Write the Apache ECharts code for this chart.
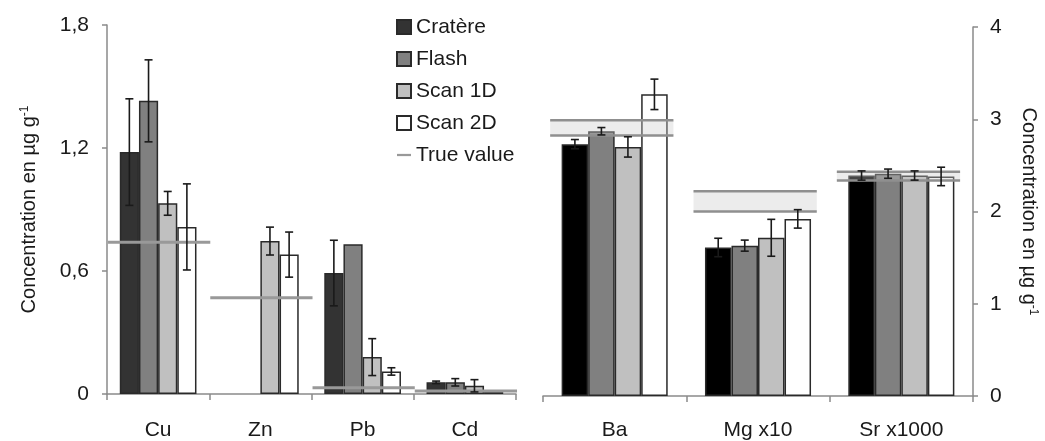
<!DOCTYPE html>
<html>
<head>
<meta charset="utf-8">
<script src="https://cdn.jsdelivr.net/npm/echarts@6/dist/echarts.min.js"></script>
<style>
html,body{margin:0;padding:0;background:#fff;}
#chart{width:1045px;height:441px;}
</style>
</head>
<body>
<div id="chart"></div>
<script>
// ---- data ----
const seriesNames = ['Cratère', 'Flash', 'Scan 1D', 'Scan 2D'];
const trueName = 'True value';

const categoriesLeft = ['Cu', 'Zn', 'Pb', 'Cd'];
const crLeft = [1.18, null, 0.59, 0.057];
const crLeftErr = [0.26, null, 0.16, 0.006];
const flLeft = [1.43, null, 0.73, 0.057];
const flLeftErr = [0.20, null, null, 0.018];
const s1Left = [0.93, 0.746, 0.18, 0.04];
const s1LeftErr = [0.058, 0.068, 0.09, 0.03];
const s2Left = [0.815, 0.68, 0.11, 0.015];
const s2LeftErr = [0.21, 0.11, 0.018, null];
const trueLeft = [0.74, 0.47, 0.03, 0.015];

const categoriesRight = ['Ba', 'Mg x10', 'Sr x1000'];
const crRight = [2.73, 1.61, 2.39];
const crRightErr = [0.05, 0.10, 0.05];
const flRight = [2.87, 1.63, 2.41];
const flRightErr = [0.04, 0.06, 0.05];
const s1Right = [2.70, 1.715, 2.39];
const s1RightErr = [0.11, 0.20, 0.05];
const s2Right = [3.27, 1.92, 2.38];
const s2RightErr = [0.165, 0.10, 0.10];
const trueRightLow = [2.825, 2.0, 2.335];
const trueRightHigh = [2.99, 2.22, 2.43];

const leftTicks = ['0', '0,6', '1,2', '1,8'];
const rightTicks = ['0', '1', '2', '3', '4'];

// ---- styles ----
const FONT = 'Liberation Sans, Arial, sans-serif';
const FS = 21;
const leftColors = ['#333333', '#808080', '#c0c0c0', '#ffffff'];
const rightColors = ['#000000', '#808080', '#c0c0c0', '#ffffff'];
const GAP_L = 0.25, GAP_R = 0.26;

function errData(vals, errs) {
  const out = [];
  vals.forEach((v, i) => {
    if (v != null && errs[i] != null) out.push([i, v - errs[i], v + errs[i]]);
  });
  return out;
}

function makeErr(slot, gap) {
  return function (params, api) {
    const cat = api.value(0);
    const lo = api.coord([cat, api.value(1)]);
    const hi = api.coord([cat, api.value(2)]);
    const band = api.size([1, 0])[0];
    const bw = band * (1 - gap) / 4;
    const x = lo[0] - 2 * bw + (slot + 0.5) * bw;
    const cap = 4;
    const st = { stroke: '#1a1a1a', lineWidth: 1.6 };
    return {
      type: 'group', children: [
        { type: 'line', shape: { x1: x, y1: lo[1], x2: x, y2: hi[1] }, style: st },
        { type: 'line', shape: { x1: x - cap, y1: lo[1], x2: x + cap, y2: lo[1] }, style: st },
        { type: 'line', shape: { x1: x - cap, y1: hi[1], x2: x + cap, y2: hi[1] }, style: st }
      ]
    };
  };
}

function trueLineRender(params, api) {
  const cat = api.value(0);
  const c = api.coord([cat, api.value(1)]);
  const band = api.size([1, 0])[0];
  return {
    type: 'line',
    shape: { x1: c[0] - 0.49 * band, y1: c[1], x2: c[0] + 0.51 * band, y2: c[1] },
    style: { stroke: '#999999', lineWidth: 3 }
  };
}

function trueBandRender(params, api) {
  const cat = api.value(0);
  const lo = api.coord([cat, api.value(1)]);
  const hi = api.coord([cat, api.value(2)]);
  const band = api.size([1, 0])[0];
  const x1 = lo[0] - 0.45 * band, x2 = lo[0] + 0.41 * band;
  const st = { stroke: '#8f8f8f', lineWidth: 2.5 };
  return {
    type: 'group', children: [
      { type: 'rect', shape: { x: x1, y: hi[1], width: x2 - x1, height: lo[1] - hi[1] }, style: { fill: 'rgba(200,200,200,0.35)' } },
      { type: 'line', shape: { x1: x1, y1: lo[1], x2: x2, y2: lo[1] }, style: st },
      { type: 'line', shape: { x1: x1, y1: hi[1], x2: x2, y2: hi[1] }, style: st }
    ]
  };
}

const leftVals = [crLeft, flLeft, s1Left, s2Left];
const leftErrs = [crLeftErr, flLeftErr, s1LeftErr, s2LeftErr];
const rightVals = [crRight, flRight, s1Right, s2Right];
const rightErrs = [crRightErr, flRightErr, s1RightErr, s2RightErr];

const series = [];
seriesNames.forEach((name, k) => {
  series.push({
    name: name, type: 'bar', xAxisIndex: 0, yAxisIndex: 0,
    data: leftVals[k], barGap: '0%', barCategoryGap: (GAP_L * 100) + '%',
    itemStyle: { color: leftColors[k], borderColor: '#2a2a2a', borderWidth: 1.5 },
    emphasis: { disabled: true }
  });
});
seriesNames.forEach((name, k) => {
  series.push({
    name: name, type: 'bar', xAxisIndex: 1, yAxisIndex: 1,
    data: rightVals[k], barGap: '0%', barCategoryGap: (GAP_R * 100) + '%',
    itemStyle: { color: rightColors[k], borderColor: '#2a2a2a', borderWidth: 1.5 },
    emphasis: { disabled: true }
  });
});
series.push({
  name: trueName, type: 'custom', xAxisIndex: 0, yAxisIndex: 0,
  itemStyle: { color: '#999999' },
  data: trueLeft.map((v, i) => [i, v]),
  encode: { x: 0, y: 1 },
  renderItem: trueLineRender, silent: true, z: 3
});
series.push({
  name: trueName, type: 'custom', xAxisIndex: 1, yAxisIndex: 1,
  itemStyle: { color: '#999999' },
  data: trueRightLow.map((v, i) => [i, v, trueRightHigh[i]]),
  encode: { x: 0, y: [1, 2] },
  renderItem: trueBandRender, silent: true, z: 3
});
seriesNames.forEach((name, k) => {
  series.push({
    type: 'custom', xAxisIndex: 0, yAxisIndex: 0,
    data: errData(leftVals[k], leftErrs[k]), encode: { x: 0, y: [1, 2] },
    renderItem: makeErr(k, GAP_L), silent: true, z: 4
  });
  series.push({
    type: 'custom', xAxisIndex: 1, yAxisIndex: 1,
    data: errData(rightVals[k], rightErrs[k]), encode: { x: 0, y: [1, 2] },
    renderItem: makeErr(k, GAP_R), silent: true, z: 4
  });
});

const axisLineStyle = { color: '#8a8a8a', width: 1.5 };
const labelStyle = { color: '#1a1a1a', fontSize: FS, fontFamily: FONT };
const titleRich = {
  n: { fontSize: 20, fontFamily: FONT, color: '#1a1a1a', verticalAlign: 'bottom', lineHeight: 20 },
  sup: { fontSize: 12, fontFamily: FONT, color: '#1a1a1a', verticalAlign: 'top', lineHeight: 12 }
};

const option = {
  animation: false,
  backgroundColor: '#ffffff',
  legend: {
    orient: 'vertical', left: 391, top: 11,
    itemWidth: 14, itemHeight: 14, itemGap: 10,
    selectedMode: false,
    textStyle: { color: '#1a1a1a', fontSize: FS, fontFamily: FONT, lineHeight: 22 },
    data: [
      { name: 'Cratère', icon: 'rect' },
      { name: 'Flash', icon: 'rect' },
      { name: 'Scan 1D', icon: 'rect' },
      { name: 'Scan 2D', icon: 'rect' },
      { name: trueName, icon: 'path://M0,0L10,0L10,1.6L0,1.6Z', itemStyle: { color: '#999999', borderWidth: 0 } }
    ]
  },
  grid: [
    { left: 107, right: 529, top: 25, bottom: 47 },
    { left: 543, right: 72, top: 27, bottom: 45 }
  ],
  xAxis: [
    {
      type: 'category', gridIndex: 0, data: categoriesLeft,
      axisLine: { lineStyle: axisLineStyle },
      axisTick: { show: true, length: 6, lineStyle: axisLineStyle },
      axisLabel: Object.assign({ margin: 26 }, labelStyle)
    },
    {
      type: 'category', gridIndex: 1, data: categoriesRight,
      axisLine: { lineStyle: axisLineStyle },
      axisTick: { show: true, length: 6, lineStyle: axisLineStyle },
      axisLabel: Object.assign({ margin: 24 }, labelStyle)
    }
  ],
  yAxis: [
    {
      type: 'value', gridIndex: 0, min: 0, max: 1.8, interval: 0.6, position: 'left',
      axisLine: { show: true, lineStyle: axisLineStyle },
      axisTick: { show: true, length: 5, lineStyle: axisLineStyle },
      splitLine: { show: false },
      axisLabel: Object.assign({ margin: 18, formatter: (v) => leftTicks[Math.round(v / 0.6)] }, labelStyle),
      name: '{n|Concentration en µg g}{sup|-1}', nameLocation: 'middle', nameRotate: 90, nameGap: 68,
      nameTextStyle: { rich: titleRich }
    },
    {
      type: 'value', gridIndex: 1, min: 0, max: 4, interval: 1, position: 'right',
      axisLine: { show: true, lineStyle: axisLineStyle },
      axisTick: { show: true, length: 5, lineStyle: axisLineStyle },
      splitLine: { show: false },
      axisLabel: Object.assign({ margin: 17, formatter: (v) => rightTicks[Math.round(v)] }, labelStyle),
      name: '{n|Concentration en µg g}{sup|-1}', nameLocation: 'middle', nameRotate: -90, nameGap: 46,
      nameTextStyle: { rich: titleRich }
    }
  ],
  series: series
};

const chart = echarts.init(document.getElementById('chart'), null, { renderer: 'canvas' });
chart.setOption(option);
</script>
</body>
</html>
